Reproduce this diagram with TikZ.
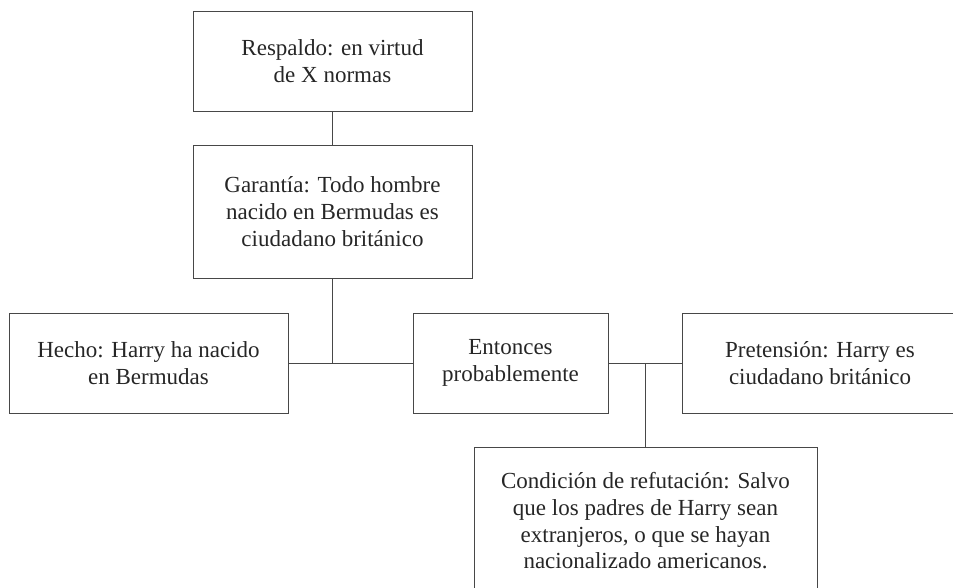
\documentclass[tikz,border=0pt]{standalone}
\usepackage{fontspec}
\setmainfont{Liberation Serif}
\usepackage{tikz}
\usetikzlibrary{positioning}

\begin{document}
\begin{tikzpicture}
  [
    x=1pt, y=-1pt,
    Box/.style={rectangle, draw=black!72, line width=0.9pt, align=center,
      inner sep=0pt, text=black!85, font=\fontsize{23}{26.7}\selectfont},
    Link/.style={draw=black!72, line width=0.9pt}
  ]
  \useasboundingbox (0,0) rectangle (953,587);
  \clip (0,0) rectangle (953,587);
  % Nodes
  \node[Box, minimum width=279pt, minimum height=100pt] (resp) at(332.5, 61) {Respaldo: en virtud\\de X normas};
  \node[Box, minimum width=279pt, minimum height=133pt] (gar) at(332.5, 211.5) {Garantía: Todo hombre\\nacido en Bermudas es\\ciudadano británico};
  \node[Box, minimum width=279pt, minimum height=100pt] (hecho) at(148.5, 363) {Hecho: Harry ha nacido\\en Bermudas};
  \node[Box, minimum width=195pt, minimum height=100pt] (ent) at(510.5, 363) {Entonces\\probablemente};
  \node[Box, minimum width=276pt, minimum height=100pt] (pret) at(820, 363) {Pretensión: Harry es\\ciudadano británico};
  \node[Box, minimum width=343pt, minimum height=148pt] (cond) at(645.5, 521) {Condición de refutación: Salvo\\que los padres de Harry sean\\extranjeros, o que se hayan\\nacionalizado americanos.};
  \coordinate (j1) at (gar.south |- hecho.east);
  \coordinate (j2) at (cond.north |- ent.east);

  % Lines
  \path [Link] (resp) -- (gar);
  \path [Link] (gar) -- (j1);
  \path [Link] (hecho) -- (ent);
  \path [Link] (ent) -- (pret);
  \path [Link] (j2) -- (cond);

\end{tikzpicture}
\end{document}
